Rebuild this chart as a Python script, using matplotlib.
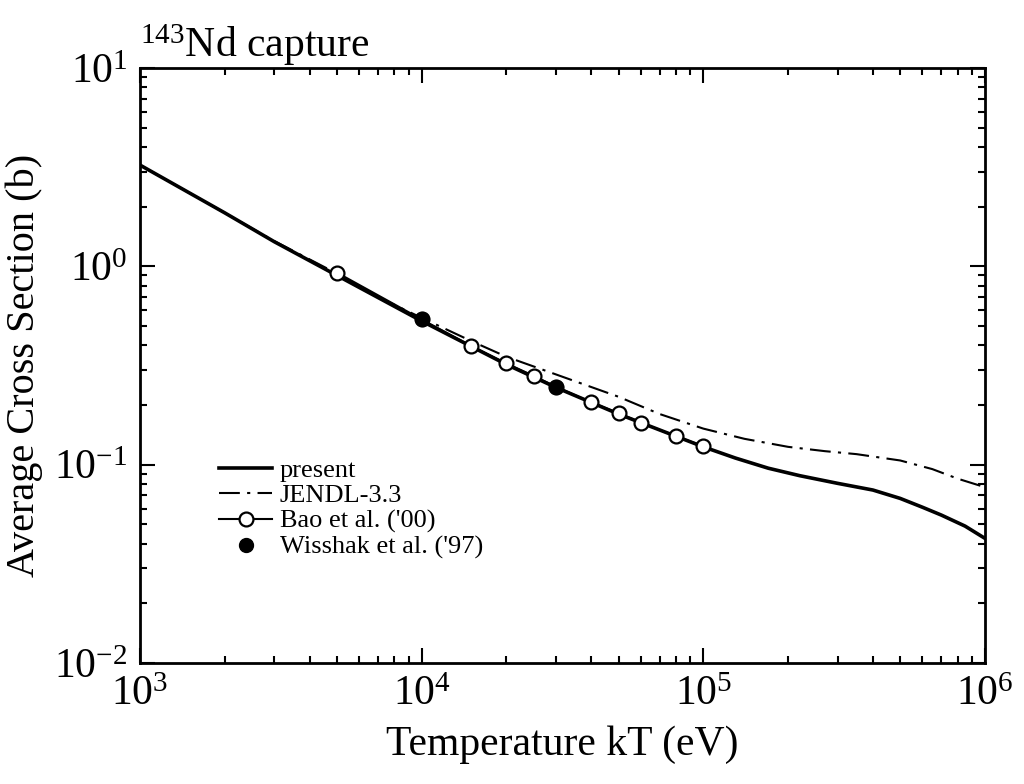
import matplotlib
matplotlib.use('Agg')
import matplotlib.pyplot as plt

# Fonts: Times-like serif everywhere, also in the mathtext exponents
plt.rcParams['font.family'] = 'Liberation Serif'
plt.rcParams['mathtext.fontset'] = 'custom'
plt.rcParams['mathtext.rm'] = 'Liberation Serif'
plt.rcParams['mathtext.it'] = 'Liberation Serif:italic'
plt.rcParams['mathtext.bf'] = 'Liberation Serif:bold'
plt.rcParams['axes.unicode_minus'] = False

# present evaluation (eV, barn)
present_kt = [1e3, 2e3, 3e3, 5e3, 1e4, 2e4, 3e4, 5e4, 1e5, 1.3e5, 1.7e5, 2.2e5, 3e5,
              4e5, 5e5, 6e5, 7e5, 8.5e5, 1e6]
present_xs = [3.24, 1.86, 1.33, 0.90, 0.53, 0.32, 0.245, 0.18, 0.123, 0.108, 0.096, 0.088, 0.0805,
              0.0745, 0.0676, 0.061, 0.0557, 0.049, 0.0425]

# JENDL-3.3
jendl_kt = [1e3, 2e3, 3e3, 5e3, 7e3, 1e4, 1.5e4, 2e4, 3e4, 5e4, 7e4, 1e5, 1.4e5, 2e5,
            2.7e5, 3.5e5, 5e5, 6.5e5, 8e5, 1e6]
jendl_xs = [3.24, 1.86, 1.34, 0.92, 0.70, 0.55, 0.42, 0.35, 0.285, 0.22, 0.18, 0.152, 0.135, 0.123,
            0.117, 0.113, 0.105, 0.095, 0.085, 0.077]

# Bao et al. ('00)
bao_kt = [5e3, 1e4, 1.5e4, 2e4, 2.5e4, 3e4, 4e4, 5e4, 6e4, 8e4, 1e5]
bao_xs = [0.93, 0.54, 0.396, 0.324, 0.28, 0.247, 0.206, 0.182, 0.163, 0.139, 0.124]

# Wisshak et al. ('97)
wis_kt = [1e4, 3e4]
wis_xs = [0.54, 0.247]

fig = plt.figure(figsize=(10.24, 7.84), dpi=100)
ax = fig.add_axes([0.1367, 0.1543, 0.8252, 0.759])

ax.plot(present_kt, present_xs, color='black', lw=2.6, label='present')
ax.plot(jendl_kt, jendl_xs, color='black', lw=1.5, linestyle=(0, (10, 3.5, 1.5, 3.5)), label='JENDL-3.3')
ax.plot(bao_kt, bao_xs, color='black', lw=1.5, marker='o', markersize=10,
        markerfacecolor='white', markeredgecolor='black', markeredgewidth=1.6,
        label="Bao et al. ('00)")
ax.plot(wis_kt, wis_xs, linestyle='none', marker='o', markersize=10,
        color='black', label="Wisshak et al. ('97)")

ax.set_xscale('log')
ax.set_yscale('log')
ax.set_xlim(1e3, 1e6)
ax.set_ylim(1e-2, 1e1)

for side in ax.spines.values():
    side.set_linewidth(2)
ax.tick_params(which='both', direction='in', top=True, right=True, labelsize=30)
ax.tick_params(which='major', length=11, width=1.5)
ax.tick_params(which='minor', length=5, width=1.5)
ax.tick_params(axis='x', which='major', pad=9)
ax.tick_params(axis='y', which='major', pad=9)

ax.set_xlabel('Temperature kT (eV)', fontsize=30, labelpad=8)
ax.set_ylabel('Average Cross Section (b)', fontsize=29, labelpad=8)
ax.set_title('$^{143}$Nd capture', loc='left', fontsize=30, pad=2)

ax.legend(loc='upper left', bbox_to_anchor=(0.072, 0.375), frameon=False,
          fontsize=19, handlelength=2.0, handletextpad=0.3, labelspacing=0.08,
          borderpad=0.2)

fig.savefig('out.png', dpi=100)
